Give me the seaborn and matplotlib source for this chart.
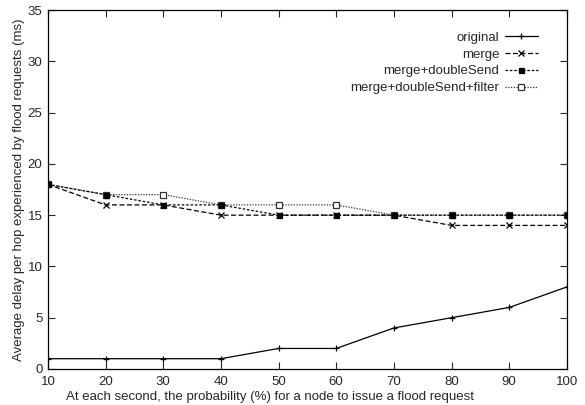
import matplotlib
matplotlib.use("Agg")
from matplotlib import pyplot as plt
import seaborn as sns

prob = [10, 20, 30, 40, 50, 60, 70, 80, 90, 100]
original = [1, 1, 1, 1, 2, 2, 4, 5, 6, 8]
merge = [18, 16, 16, 15, 15, 15, 15, 14, 14, 14]
merge_double = [18, 17, 16, 16, 15, 15, 15, 15, 15, 15]
merge_double_filter = [18, 17, 17, 16, 16, 16, 15, 15, 15, 15]

sns.set_style("ticks")
plt.rcParams['font.family'] = ['Liberation Sans', 'DejaVu Sans']
plt.rcParams['font.size'] = 9.5

fig = plt.figure(figsize=(5.85, 4.05), dpi=100)
ax = fig.add_axes([0.082, 0.089, 0.887, 0.886])

# (label, values, style, zorder)
series = [
    ("original", original, dict(linestyle="-", marker="+", markersize=5, color="black"), 3),
    ("merge", merge, dict(linestyle=(0, (4, 2)), marker="x", markersize=4, color="black"), 3),
    ("merge+doubleSend", merge_double, dict(linestyle=(0, (2, 1.5)), marker="s", markersize=3.6,
                                            markerfacecolor="black", color="black"), 5),
    ("merge+doubleSend+filter", merge_double_filter, dict(linestyle=(0, (1, 1.2)), marker="s", markersize=5,
                                                          markerfacecolor="white", color="#333333"), 4),
]
for name, vals, kw, z in series:
    sns.lineplot(x=prob, y=vals, ax=ax, label=name, linewidth=0.9, markeredgewidth=0.9,
                 markeredgecolor=kw["color"], zorder=z, **kw)

ax.set_xlim(10, 100)
ax.set_ylim(0, 35)
ax.set_xticks(range(10, 101, 10))
ax.set_yticks(range(0, 36, 5))
ax.tick_params(direction="in", top=True, right=True, length=5, width=0.8)
ax.tick_params(axis="x", pad=5)
ax.tick_params(axis="y", pad=4)
for s in ax.spines.values():
    s.set_visible(True)
    s.set_linewidth(0.9)
    s.set_color("black")
    s.set_zorder(6)

ax.set_xlabel("At each second, the probability (%) for a node to issue a flood request")
ax.xaxis.set_label_coords(0.428, -0.062)
ax.set_ylabel("Average delay per hop experienced by flood requests (ms)", labelpad=2)

leg = ax.legend(loc="upper right", bbox_to_anchor=(0.954, 0.955), frameon=False, markerfirst=False,
                handlelength=2.5, handletextpad=0.4, labelspacing=0.35, borderaxespad=0)

plt.savefig("out.png", dpi=100)
